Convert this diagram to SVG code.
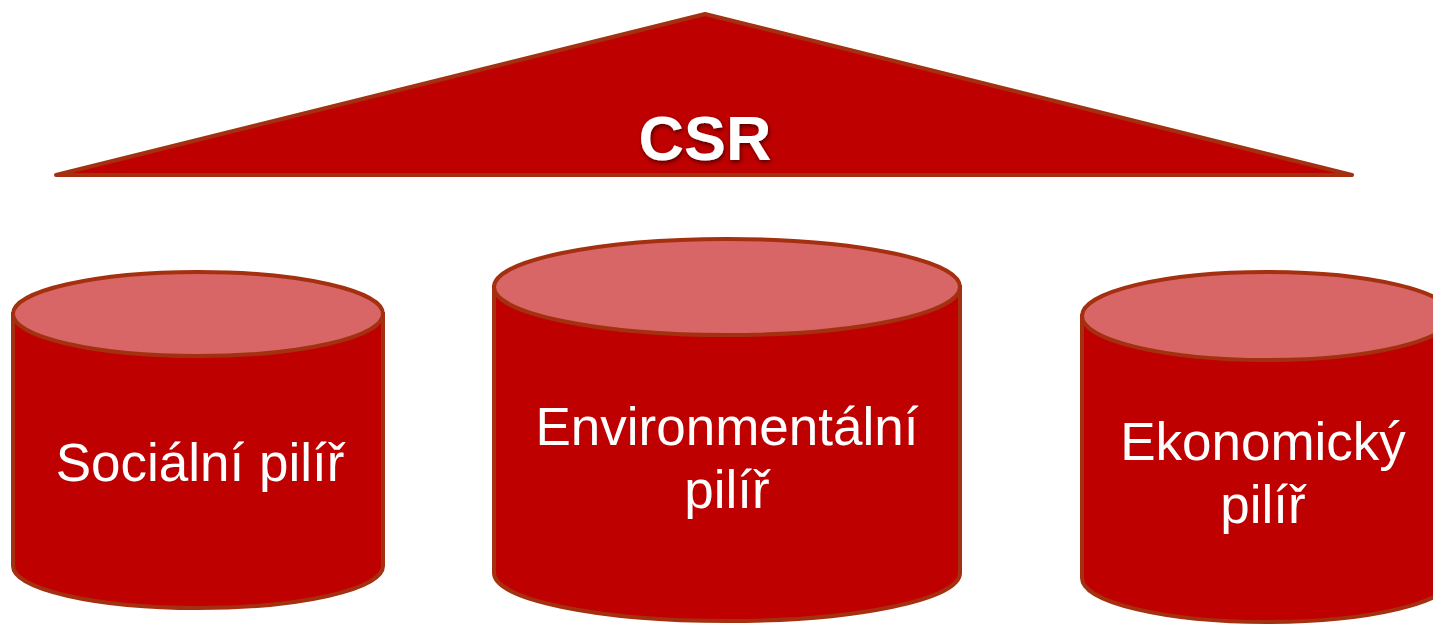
<svg xmlns="http://www.w3.org/2000/svg" width="1433" height="625" viewBox="0 0 1433 625">
<defs>
<style>
.body{fill:#BE0000;stroke:#A5300F;stroke-width:4}
.top{fill:#D86666;stroke:#A5300F;stroke-width:4}
.lbl{font-family:"Liberation Sans",Arial,sans-serif;font-size:53px;fill:#fff;text-anchor:middle}
.csr{font-family:"Liberation Sans",Arial,sans-serif;font-size:63px;font-weight:bold;fill:#fff;text-anchor:middle}
</style>
<filter id="sh" x="-20%" y="-30%" width="140%" height="160%">
<feDropShadow dx="1" dy="2" stdDeviation="2" flood-color="#000" flood-opacity="0.6"/>
</filter>
</defs>
<rect width="1433" height="625" fill="#fff"/>
<g id="roof">
<polygon points="705,14 1352,175 56,175" fill="#BE0000" stroke="#A5300F" stroke-width="4" stroke-linejoin="round"/>
<text class="csr" x="705" y="160" filter="url(#sh)">CSR</text>
</g>
<g id="social">
<path class="body" d="M13,314 L13,566 A185,42 0 0 0 383,566 L383,314 Z"/>
<ellipse class="top" cx="198" cy="314" rx="185" ry="42"/>
<text class="lbl" x="200" y="481">Sociální pilíř</text>
</g>
<g id="environmental">
<path class="body" d="M494,287 L494,573 A233,48 0 0 0 960,573 L960,287 Z"/>
<ellipse class="top" cx="727" cy="287" rx="233" ry="48"/>
<text class="lbl" x="727" y="445">Environmentální</text>
<text class="lbl" x="727" y="508">pilíř</text>
</g>
<g id="economic">
<path class="body" d="M1082,316 L1082,578 A185,44 0 0 0 1452,578 L1452,316 Z"/>
<ellipse class="top" cx="1267" cy="316" rx="185" ry="44"/>
<text class="lbl" x="1263" y="460">Ekonomický</text>
<text class="lbl" x="1263" y="523">pilíř</text>
</g>
<g id="connectors"/>
</svg>
